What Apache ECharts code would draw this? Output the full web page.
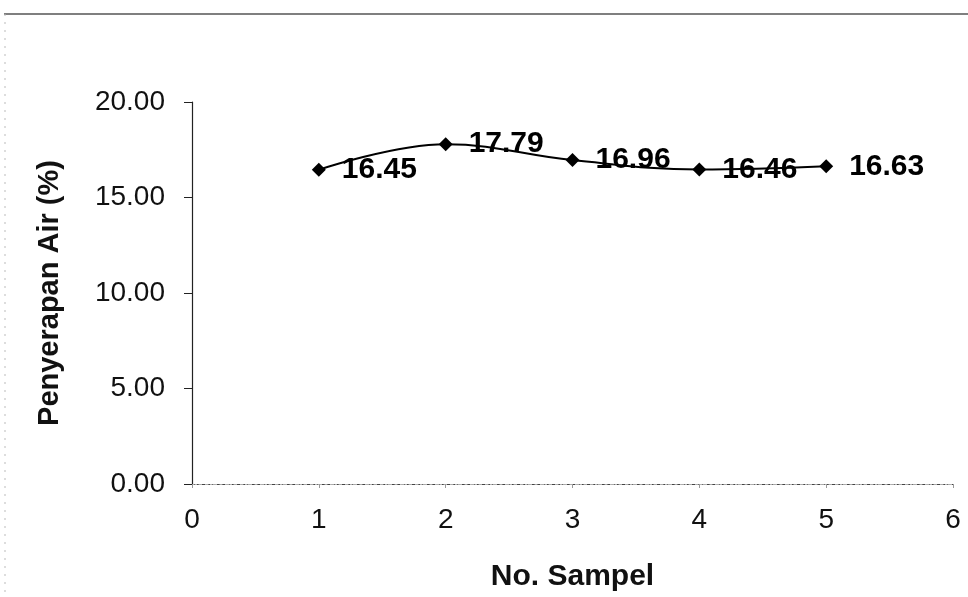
<!DOCTYPE html>
<html>
<head>
<meta charset="utf-8">
<script src="https://cdn.jsdelivr.net/npm/echarts@6/dist/echarts.min.js"></script>
<style>
  html, body { margin: 0; padding: 0; background: #fff; }
  #chart { width: 968px; height: 597px; }
</style>
</head>
<body>
<div id="chart"></div>
<script>
// Sample numbers and measured water absorption (%)
const sampleNo = [1, 2, 3, 4, 5];
const absorption = [16.45, 17.79, 16.96, 16.46, 16.63];
// Axis ranges
const xTicks = [0, 1, 2, 3, 4, 5, 6];
const yTicks = [0, 5, 10, 15, 20];

const chart = echarts.init(document.getElementById('chart'), null, { renderer: 'canvas' });
const font = '"Liberation Sans", Arial, sans-serif';

chart.setOption({
  backgroundColor: '#ffffff',
  animation: false,
  grid: { left: 192, right: 15, top: 102, bottom: 111 },
  graphic: [
    { type: 'line', shape: { x1: 4, y1: 14, x2: 968, y2: 14 }, style: { stroke: '#555', lineWidth: 1.5 } },
    { type: 'line', shape: { x1: 5, y1: 14, x2: 5, y2: 597 }, style: { stroke: '#bbb', lineWidth: 1, lineDash: [2, 6] } }
  ],
  xAxis: [
    {
      type: 'value',
      min: xTicks[0], max: xTicks[xTicks.length - 1], interval: 1,
      name: 'No. Sampel', nameLocation: 'middle', nameGap: 78,
      nameTextStyle: { fontFamily: font, fontSize: 30, fontWeight: 'bold', color: '#111' },
      axisLine: { onZero: false, lineStyle: { color: '#444', width: 1, type: [3, 2] } },
      axisTick: { show: true, length: 4, lineStyle: { color: '#999' } },
      axisLabel: { margin: 22, fontFamily: font, fontSize: 28, color: '#111' },
      splitLine: { show: false }
    },
    {
      type: 'value', position: 'top',
      min: xTicks[0], max: xTicks[xTicks.length - 1], interval: 1,
      axisLine: { show: true, lineStyle: { color: '#aaa', width: 1, type: [2, 5] } },
      axisTick: { show: false }, axisLabel: { show: false }, splitLine: { show: false }
    }
  ],
  yAxis: {
    type: 'value',
    min: yTicks[0], max: yTicks[yTicks.length - 1], interval: 5,
    name: 'Penyerapan Air (%)', nameLocation: 'middle', nameGap: 128,
    nameTextStyle: { fontFamily: font, fontSize: 29, fontWeight: 'bold', color: '#111' },
    axisLine: { show: true, lineStyle: { color: '#222', width: 1.2 } },
    axisTick: { show: true, length: 8, inside: false, lineStyle: { color: '#222' } },
    axisLabel: { margin: 27, fontFamily: font, fontSize: 28, color: '#111',
      formatter: v => v.toFixed(2) },
    splitLine: { show: false }
  },
  series: [{
    type: 'line',
    data: sampleNo.map((x, i) => [x, absorption[i]]),
    smooth: 0.4,
    symbol: 'diamond',
    symbolSize: 14,
    itemStyle: { color: '#000' },
    lineStyle: { color: '#000', width: 2 },
    label: {
      show: true, position: 'right', distance: 16,
      fontFamily: font, fontSize: 30, fontWeight: 'bold', color: '#000',
      formatter: p => p.value[1].toFixed(2)
    }
  }]
});
</script>
</body>
</html>
